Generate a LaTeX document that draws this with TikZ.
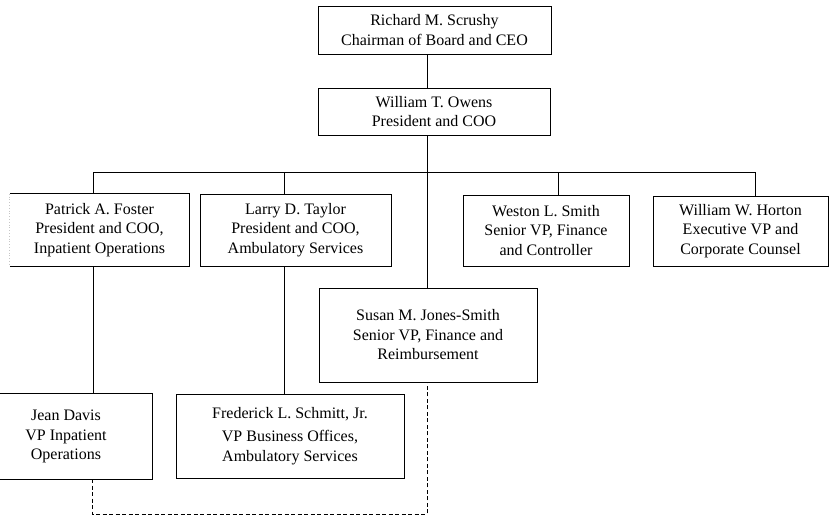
\documentclass[tikz,border=0pt]{standalone}
\usepackage{fontspec}
\setmainfont{Liberation Serif}
\begin{document}
\begin{tikzpicture}[x=1pt,y=-1pt,
  box/.style={draw, line width=0.9pt, inner sep=0pt, align=center,
    font=\fontsize{16}{19.5}\selectfont},
  plain/.style={inner sep=0pt, align=center, font=\fontsize{16}{19.5}\selectfont},
  link/.style={line width=0.9pt},
  dlink/.style={line width=0.9pt, dash pattern=on 4pt off 2.5pt}]
\useasboundingbox (0,0) rectangle (835,516);
\begin{scope}
\clip (0,0) rectangle (835,516);
\node[box, minimum width=233pt, minimum height=48pt] (ceo) at (434.5,30)
  {Richard M. Scrushy\\Chairman of Board and CEO};
\node[box, minimum width=232pt, minimum height=47pt] (coo) at (434,111.5)
  {William T. Owens\\President and COO};
\node[plain, minimum width=179pt, minimum height=72pt] (patrick) at (99.5,230)
  {Patrick A. Foster\\President and COO,\\Inpatient Operations};
\node[box, minimum width=191pt, minimum height=72pt] (larry) at (295.5,230)
  {Larry D. Taylor\\President and COO,\\Ambulatory Services};
\node[box, minimum width=166pt, minimum height=71pt] (weston) at (546,230.5)
  {Weston L. Smith\\Senior VP, Finance\\and Controller};
\node[box, minimum width=175pt, minimum height=70pt] (horton) at (740.5,231)
  {William W. Horton\\Executive VP and\\Corporate Counsel};
\node[box, minimum width=218pt, minimum height=94pt] (susan) at (428,335)
  {Susan M. Jones-Smith\\Senior VP, Finance and\\Reimbursement};
\node[plain, minimum width=172pt, minimum height=85pt] (jean) at (66,436.5)
  {Jean Davis\\VP Inpatient\\Operations};
\node[box, minimum width=228pt, minimum height=84pt] (fred) at (290,436)
  {Frederick L. Schmitt, Jr.\\[4pt]VP Business Offices,\\Ambulatory Services};
% partial box outlines
\draw[link] (patrick.south west) -- (patrick.south east) -- (patrick.north east) -- (patrick.north west);
\draw[gray!45, dotted, line width=0.8pt] (patrick.north west) -- (patrick.south west);
\draw[link] (jean.north west) -- (jean.north east) -- (jean.south east) -- (jean.south west);
\end{scope}
% connector coordinates
\coordinate (spine) at (427,172);
\coordinate (d1) at (93,172);
\coordinate (d2) at (284,172);
\coordinate (d3) at (558,172);
\coordinate (d4) at (755,172);
\coordinate (base) at (92,514);
\draw[link] (spine |- ceo.south) -- (spine |- coo.north);
\draw[link] (spine |- coo.south) -- (spine |- susan.north);
\draw[link] (d1) -- (d4);
\draw[link] (d1) -- (d1 |- patrick.north);
\draw[link] (d2) -- (d2 |- larry.north);
\draw[link] (d3) -- (d3 |- weston.north);
\draw[link] (d4) -- (d4 |- horton.north);
\draw[link] (d1 |- patrick.south) -- (d1 |- jean.north);
\draw[link] (d2 |- larry.south) -- (d2 |- fred.north);
\draw[dlink] (base |- jean.south) -- (base) -- (spine |- base) -- (spine |- susan.south);
\end{tikzpicture}
\end{document}
